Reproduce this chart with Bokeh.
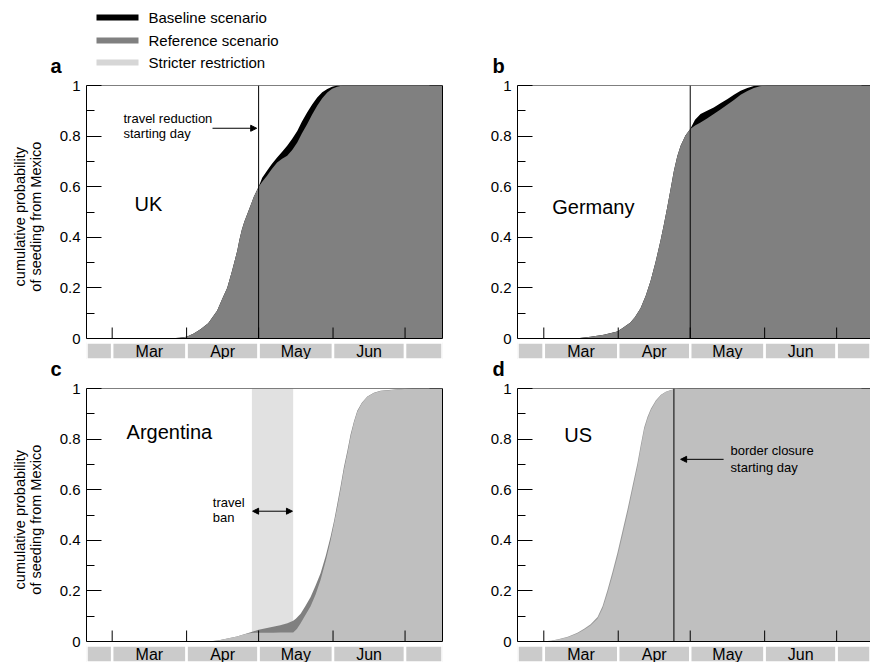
import math
from bokeh.plotting import figure
from bokeh.models import Range1d, FixedTicker, LinearAxis, Span, Arrow, NormalHead
from bokeh.layouts import column, row
from bokeh.embed import file_html
from bokeh.resources import INLINE
from bokeh.core.properties import value

FONT = "Liberation Sans"

# ---------------- data (days counted from 1 March 2009) ----------------
month_starts = [0, 31, 61, 92, 122]
month_labels = ["Mar", "Apr", "May", "Jun"]

y_ticks = [0, 0.2, 0.4, 0.6, 0.8, 1]
y_tick_labels = ["0", "0.2", "0.4", "0.6", "0.8", "1"]
y_minor_ticks = [0.1, 0.3, 0.5, 0.7, 0.9]

legend_labels = ["Baseline scenario", "Reference scenario", "Stricter restriction"]
legend_colors = ["#000000", "#808080", "#d6d6d6"]

ylabel_lines = ["cumulative probability", "of seeding from Mexico"]

# UK
uk_days = [-10.7, 20, 25, 28, 31, 34, 36.8, 40, 43.7, 46, 47.9, 50, 52.1, 53, 54, 55, 56, 57, 58, 59, 60, 61,
           62.5, 64.5, 66.5, 68.7, 70.8, 72.9, 75, 77.1, 79, 81.2, 83.3, 85.4, 87.5, 89.6, 91.6, 93.7, 96, 137.6]
uk_reference = [0, 0, 0.001, 0.003, 0.007, 0.02, 0.037, 0.06, 0.11, 0.16, 0.20, 0.27, 0.347, 0.39, 0.43,
                0.46, 0.485, 0.51, 0.535, 0.56, 0.58, 0.60,
                0.62, 0.643, 0.67, 0.696, 0.71, 0.722, 0.745, 0.775, 0.81, 0.847, 0.885, 0.92, 0.95, 0.972,
                0.987, 0.995, 1.0, 1.0]
uk_baseline = [0, 0, 0.001, 0.003, 0.007, 0.02, 0.037, 0.06, 0.11, 0.16, 0.20, 0.27, 0.347, 0.39, 0.43,
               0.46, 0.485, 0.51, 0.535, 0.56, 0.58, 0.60,
               0.635, 0.663, 0.69, 0.715, 0.738, 0.762, 0.79, 0.82, 0.857, 0.893, 0.925, 0.953, 0.973,
               0.986, 0.995, 1.0, 1.0, 1.0]

# Germany
de_days = [-11, 10, 15, 19.5, 25, 30.6, 33, 36.1, 38, 40.3, 42.5, 44.5, 46.5, 48.6, 50, 51.4, 52.8, 54.2,
           55.6, 57, 59, 61, 63, 65.3, 68, 70.8, 73.6, 76.4, 79.2, 82, 84.8, 87.5, 90, 93, 136.1]
de_reference = [0, 0, 0.002, 0.007, 0.015, 0.028, 0.042, 0.063, 0.085, 0.12, 0.17, 0.228, 0.30, 0.386,
                0.45, 0.518, 0.59, 0.663, 0.72, 0.762, 0.802, 0.828, 0.842, 0.854, 0.87, 0.887, 0.905,
                0.924, 0.943, 0.963, 0.978, 0.99, 0.997, 1.0, 1.0]
de_baseline = [0, 0, 0.002, 0.007, 0.015, 0.028, 0.042, 0.063, 0.085, 0.12, 0.17, 0.228, 0.30, 0.386,
               0.45, 0.518, 0.59, 0.663, 0.72, 0.762, 0.802, 0.828, 0.865, 0.887, 0.90, 0.913, 0.93,
               0.946, 0.963, 0.979, 0.99, 0.998, 1.0, 1.0, 1.0]

# Argentina
ar_days = [-10.7, 38, 42, 44, 46, 48, 50, 52, 54, 56, 58, 61, 64, 67, 70, 73, 75.4, 76.5, 77, 78.5, 80.5,
           82.6, 84.7, 86.8, 89, 91, 92.5, 93.8, 95.2, 96.5, 98, 99.3, 100.7, 102.1, 104, 106.3, 109,
           111.8, 118.8, 125, 137.6]
ar_reference = [0, 0, 0.002, 0.004, 0.008, 0.012, 0.016, 0.02, 0.026, 0.032, 0.038, 0.046, 0.052, 0.058,
                0.064, 0.072, 0.082, 0.09, 0.095, 0.11, 0.14, 0.175, 0.22, 0.27, 0.34, 0.415, 0.48,
                0.545, 0.617, 0.688, 0.755, 0.818, 0.87, 0.912, 0.944, 0.968, 0.983, 0.991, 0.997, 1.0, 1.0]
ar_stricter = [0, 0, 0.002, 0.004, 0.008, 0.012, 0.016, 0.02, 0.026, 0.031, 0.034, 0.035, 0.035, 0.035,
               0.036, 0.036, 0.036, 0.045, 0.05, 0.072, 0.105, 0.138, 0.185, 0.243, 0.32, 0.40, 0.47,
               0.533, 0.605, 0.677, 0.745, 0.809, 0.865, 0.908, 0.942, 0.967, 0.982, 0.99, 0.996, 1.0, 1.0]

# US
us_days = [-11, -2, 0, 3, 6, 10, 14, 16.8, 19.5, 22.4, 24.5, 26.5, 28.6, 30.7, 32.8, 34.9, 37, 39, 40.4,
           41.8, 43.2, 44.6, 46.7, 48.8, 50.8, 52.9, 55, 57, 136.1]
us_reference = [0, 0, 0.001, 0.003, 0.009, 0.019, 0.035, 0.05, 0.068, 0.097, 0.14, 0.203, 0.275, 0.352,
                0.438, 0.524, 0.617, 0.705, 0.778, 0.846, 0.888, 0.92, 0.954, 0.975, 0.987, 0.994, 0.998,
                1.0, 1.0]
us_stricter = [0, 0, 0.001, 0.003, 0.008, 0.017, 0.032, 0.046, 0.063, 0.09, 0.13, 0.19, 0.26, 0.335,
               0.42, 0.506, 0.60, 0.69, 0.765, 0.836, 0.88, 0.914, 0.95, 0.973, 0.986, 0.993, 0.998,
               1.0, 1.0]

travel_reduction_day = 61
border_closure_day = 54.2
travel_ban = (58.2, 75.4)

# ---------------- styling ----------------
C_BASE = "#000000"
C_REF = "#808080"
C_STRICT = "#bfbfbf"
C_BAN = "#e1e1e1"
C_MONTH = "#cbcbcb"

Y_BOTTOM = -0.083      # room for the month band below the axis
BAND_TOP = -0.016
PX_Y = 1 / 253.0       # one pixel in y units
PX_X = 1 / 2.4         # one pixel in day units

LEFT_RANGE = (-10.7, 137.6)
RIGHT_RANGE = (-10.96, 136.1)
PANEL_H = 284


def make_panel(xr, width, border_left, border_right, right_line):
    p = figure(width=width, height=PANEL_H, x_range=Range1d(*xr), y_range=Range1d(Y_BOTTOM, 1.0),
               output_backend="svg", toolbar_location=None, x_axis_location=None,
               y_axis_location="left", min_border_left=border_left, min_border_right=border_right,
               min_border_top=10, min_border_bottom=0)
    p.outline_line_color = None
    p.grid.visible = False
    p.background_fill_color = "white"
    p.border_fill_color = "white"

    yax = p.yaxis[0]
    yax.ticker = FixedTicker(ticks=y_ticks, minor_ticks=y_minor_ticks)
    yax.bounds = (0, 1)
    yax.major_label_overrides = {t: l for t, l in zip(y_ticks, y_tick_labels)}
    yax.major_label_text_font = FONT
    yax.major_label_text_font_size = "15px"
    yax.major_label_text_color = "black"
    yax.major_label_standoff = 6
    yax.major_tick_in = 15
    yax.major_tick_out = 0
    yax.minor_tick_in = 8
    yax.minor_tick_out = 0
    yax.axis_line_color = "black"
    yax.major_tick_line_color = "black"
    yax.minor_tick_line_color = "black"

    # right border line (no ticks / labels on the axis itself)
    if right_line:
        rax = LinearAxis(ticker=FixedTicker(ticks=[]), bounds=(0, 1), major_tick_in=0,
                         major_tick_out=0, minor_tick_in=0, minor_tick_out=0, axis_line_color="black")
        p.add_layout(rax, "right")
        maj_len, min_len = 13, 6
    else:
        maj_len, min_len = 9, 3
    # inward ticks on the right edge
    xe = xr[1]
    p.segment(x0=[xe - maj_len * PX_X] * len(y_ticks), y0=y_ticks, x1=[xe] * len(y_ticks), y1=y_ticks,
              line_color="black", line_width=1)
    p.segment(x0=[xe - min_len * PX_X] * len(y_minor_ticks), y0=y_minor_ticks,
              x1=[xe] * len(y_minor_ticks), y1=y_minor_ticks, line_color="black", line_width=1)

    p.add_layout(Span(location=0, dimension="width", line_color="black", line_width=1))
    p.add_layout(Span(location=1, dimension="width", line_color="black", line_width=1))

    # month band
    lefts = [xr[0]] + month_starts
    rights = month_starts + [xr[1]]
    p.quad(left=lefts, right=rights, bottom=Y_BOTTOM, top=BAND_TOP, fill_color=C_MONTH,
           line_color="white", line_width=2.5)
    centers = [(a + b) / 2 for a, b in zip(month_starts[:-1], month_starts[1:])]
    p.text(x=centers, y=[(Y_BOTTOM + BAND_TOP) / 2] * len(centers), text=month_labels,
           text_font=value(FONT), text_font_size="16px", text_align="center",
           text_baseline="middle", text_color="black")
    return p


def add_month_ticks(p):
    p.segment(x0=month_starts, y0=[0] * len(month_starts), x1=month_starts,
              y1=[11 * PX_Y] * len(month_starts), line_color="black", line_width=1)


def add_country(p, name, x, y):
    p.text(x=[x], y=[y], text=[name], text_font=value(FONT), text_font_size="20px",
           text_baseline="middle", text_align="left", text_color="black")


def add_note(p, lines, x, ys):
    p.text(x=[x] * len(lines), y=ys, text=lines, text_font=value(FONT), text_font_size="13px",
           text_baseline="middle", text_align="left", text_color="black")


def head_arrow():
    return NormalHead(size=6, fill_color="black", line_color="black")


# ---- panel a : UK
pa = make_panel(LEFT_RANGE, 435, 41, 38, True)
pa.varea(x=uk_days, y1=0, y2=uk_baseline, fill_color=C_BASE)
pa.varea(x=uk_days, y1=0, y2=uk_reference, fill_color=C_REF)
add_month_ticks(pa)
pa.segment(x0=[travel_reduction_day], y0=[0], x1=[travel_reduction_day], y1=[1], line_color="black", line_width=1)
add_country(pa, "UK", 9.3, 0.532)
add_note(pa, ["travel reduction", "starting day"], 4.7, [0.870, 0.810])
pa.add_layout(Arrow(end=head_arrow(), x_start=41.8, y_start=0.831, x_end=60.2, y_end=0.831, line_width=1))

# ---- panel b : Germany
pb = make_panel(RIGHT_RANGE, 390, 37, 0, False)
pb.varea(x=de_days, y1=0, y2=de_baseline, fill_color=C_BASE)
pb.varea(x=de_days, y1=0, y2=de_reference, fill_color=C_REF)
add_month_ticks(pb)
pb.segment(x0=[travel_reduction_day], y0=[0], x1=[travel_reduction_day], y1=[1], line_color="black", line_width=1)
add_country(pb, "Germany", 3.5, 0.518)

# ---- panel c : Argentina
pc = make_panel(LEFT_RANGE, 435, 41, 38, True)
pc.quad(left=[travel_ban[0]], right=[travel_ban[1]], bottom=[0], top=[1], fill_color=C_BAN, line_color=None)
pc.varea(x=ar_days, y1=0, y2=ar_reference, fill_color=C_REF)
pc.varea(x=ar_days, y1=0, y2=ar_stricter, fill_color=C_STRICT)
add_month_ticks(pc)
add_country(pc, "Argentina", 6.0, 0.83)
add_note(pc, ["travel", "ban"], 41.9, [0.551, 0.491])
pc.add_layout(Arrow(start=head_arrow(), end=head_arrow(), x_start=travel_ban[0] + 0.3, y_start=0.515,
                    x_end=travel_ban[1] - 0.3, y_end=0.515, line_width=1))

# ---- panel d : US
pd_ = make_panel(RIGHT_RANGE, 390, 37, 0, False)
pd_.varea(x=us_days, y1=0, y2=us_reference, fill_color="#9a9a9a")
pd_.varea(x=us_days, y1=0, y2=us_stricter, fill_color=C_STRICT)
add_month_ticks(pd_)
pd_.segment(x0=[border_closure_day], y0=[0], x1=[border_closure_day], y1=[1], line_color="black", line_width=1)
add_country(pd_, "US", 8.5, 0.818)
add_note(pd_, ["border closure", "starting day"], 77.8, [0.755, 0.688])
pd_.add_layout(Arrow(end=head_arrow(), x_start=74.9, y_start=0.72, x_end=57.0, y_end=0.72, line_width=1))


# ---- strips: header (legend, a, b), middle (c, d), y-axis titles
def strip(width, height):
    s = figure(width=width, height=height, x_range=Range1d(0, width), y_range=Range1d(0, height),
               output_backend="svg", toolbar_location=None, x_axis_location=None,
               y_axis_location=None, min_border=0)
    s.outline_line_color = None
    s.grid.visible = False
    return s


head = strip(870, 75)
leg_y = [75 - 17, 75 - 40, 75 - 62]
head.segment(x0=[96] * 3, y0=leg_y, x1=[138] * 3, y1=leg_y, line_color=legend_colors, line_width=6)
head.text(x=[148] * 3, y=leg_y, text=legend_labels, text_font=value(FONT), text_font_size="15px",
          text_baseline="middle", text_color="black")
head.text(x=[50, 492], y=[75 - 65, 75 - 65], text=["a", "b"], text_font=value(FONT), text_font_size="20px",
          text_font_style="bold", text_baseline="middle", text_color="black")

mid = strip(870, 19)
mid.text(x=[50, 492], y=[19 - 9, 19 - 9], text=["c", "d"], text_font=value(FONT), text_font_size="20px",
         text_font_style="bold", text_baseline="middle", text_color="black")


def ylabel_strip(center_y):
    s = strip(45, PANEL_H)
    s.text(x=[19, 35], y=[center_y, center_y], text=ylabel_lines, angle=math.pi / 2,
           text_font=value(FONT), text_font_size="14.5px", text_align="center",
           text_baseline="middle", text_color="black")
    return s


ya = ylabel_strip(PANEL_H - 136)
yc = ylabel_strip(PANEL_H - 136)

layout = column(head, row(ya, pa, pb), mid, row(yc, pc, pd_))

open("out.html", "w").write(file_html(layout, INLINE))
